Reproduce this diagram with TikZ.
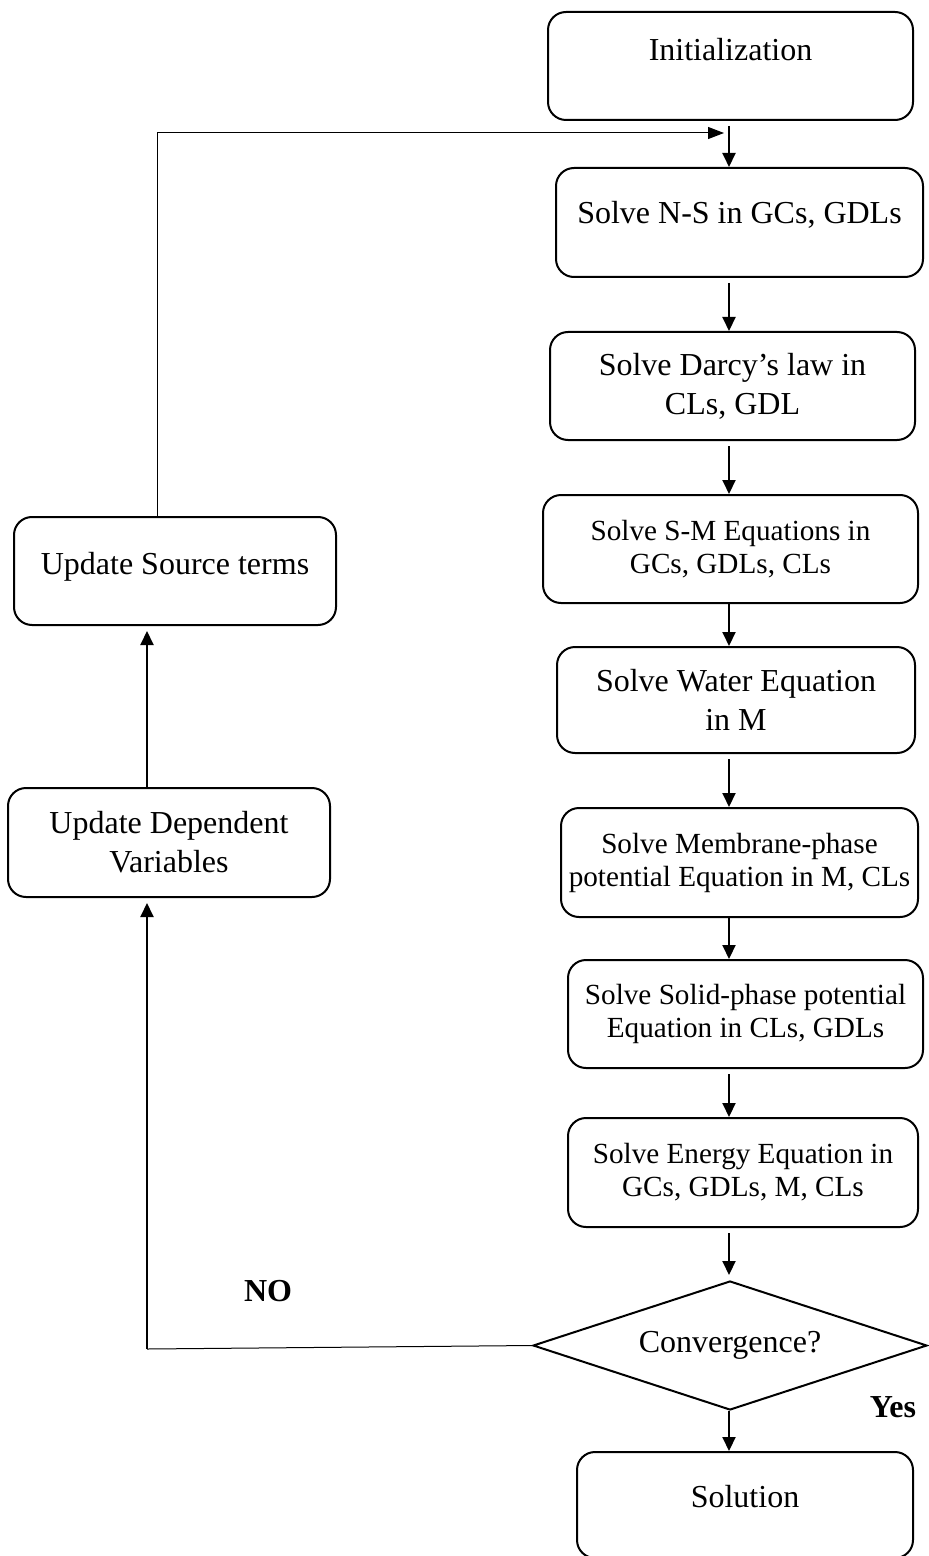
\documentclass[tikz,border=0pt]{standalone}
\usepackage{fontspec}
\setmainfont{Liberation Serif}
\usetikzlibrary{positioning, arrows.meta, shapes.geometric}

% lift a line of text inside its box without changing the box size
\newcommand{\liftup}[2]{\raisebox{#1}[\height][\depth]{#2}}

\begin{document}
\begin{tikzpicture}[
    x=0.5pt, y=-0.5pt,
    font=\fontsize{16}{19.5}\selectfont,
    block/.style={
        draw, line width=1pt,
        rounded corners=9pt,
        align=center,
        inner sep=2pt,
        minimum height=54pt
    },
    smalltext/.style={font=\fontsize{14.6}{16.5}\selectfont},
    decision/.style={
        draw, line width=1pt,
        diamond, aspect=3,
        align=center,
        inner sep=0pt,
        minimum width=197pt,
        minimum height=64.5pt
    },
    arrow/.style={-{Triangle[length=7pt,width=6.5pt]}, line width=1pt},
    thinarrow/.style={-{Triangle[length=8pt,width=6pt]}, line width=0.5pt},
    gap/.style={shorten <=2.5pt},
    note/.style={font=\fontsize{16}{19.5}\selectfont\bfseries}
]
\useasboundingbox (0,0) rectangle (928,1556);

% ===================== SOLVER COLUMN =====================
\node[block, minimum width=182.5pt] (init) at (730.5,66)
{\liftup{8pt}{Initialization}};

\node[block, minimum width=183.5pt, minimum height=54.5pt] (ns) at (739.5,222.5)
{\liftup{4pt}{Solve N-S in GCs, GDLs}};

\node[block, minimum width=182.5pt] (darcy) at (732.5,386)
{Solve Darcy's law in\\CLs, GDL};

\node[block, smalltext, minimum width=187.5pt] (sm) at (730.5,549)
{Solve S-M Equations in\\GCs, GDLs, CLs};

\node[block, minimum width=179pt, minimum height=53pt] (water) at (736,700)
{Solve Water Equation\\in M};

\node[block, smalltext, minimum width=178.5pt, minimum height=54.5pt] (memb) at (739.5,862.5)
{Solve Membrane-phase\\potential Equation in M, CLs};

\node[block, smalltext, minimum width=177.5pt] (solid) at (745.5,1014)
{Solve Solid-phase potential\\Equation in CLs, GDLs};

\node[block, smalltext, minimum width=175pt, minimum height=54.5pt] (energy) at (743,1172.5)
{Solve Energy Equation in\\GCs, GDLs, M, CLs};

\node[decision] (conv) at (730,1345.5) {Convergence?};

\node[block, minimum width=168pt, minimum height=53pt] (sol) at (745,1505)
{\liftup{4pt}{Solution}};

% ===================== UPDATE COLUMN =====================
\node[block, minimum width=161pt] (source) at (175,571)
{\liftup{2pt}{Update Source terms}};

\node[block, minimum width=161pt, minimum height=54.5pt] (dep) at (169,842.5)
{Update Dependent\\Variables};

\node[note] (no) at (268,1291) {NO};
\node[note] (yes) at (893,1407) {Yes};

% rails of the loop
\coordinate (col) at (729,0);
\coordinate (merge) at (724,133);
\coordinate (rise) at (157,133);
\coordinate (turn) at (147,1349);

% ===================== MAIN FLOW ARROWS =====================
\draw[arrow, gap] (init.south -| col) -- (ns.north -| col);
\draw[arrow, gap] (ns.south -| col) -- (darcy.north -| col);
\draw[arrow, gap] (darcy.south -| col) -- (sm.north -| col);
\draw[arrow] (sm.south -| col) -- (water.north -| col);
\draw[arrow, gap] (water.south -| col) -- (memb.north -| col);
\draw[arrow] (memb.south -| col) -- (solid.north -| col);
\draw[arrow, gap] (solid.south -| col) -- (energy.north -| col);
\draw[arrow, gap, shorten >=2.5pt] (energy.south -| col) -- (conv.north -| col);
\draw[arrow] (conv.south -| col) -- (sol.north -| col);

% ===================== LOOP BACK =====================
\draw[line width=0.5pt] (conv.west) -- (turn);
\draw[arrow, shorten >=2.5pt] (turn) -- (dep.south -| turn);
\draw[arrow, shorten >=2.5pt] (dep.north -| turn) -- (source.south -| turn);
\draw[thinarrow] (source.north -| rise) -- (rise) -- (merge);

\end{tikzpicture}
\end{document}
